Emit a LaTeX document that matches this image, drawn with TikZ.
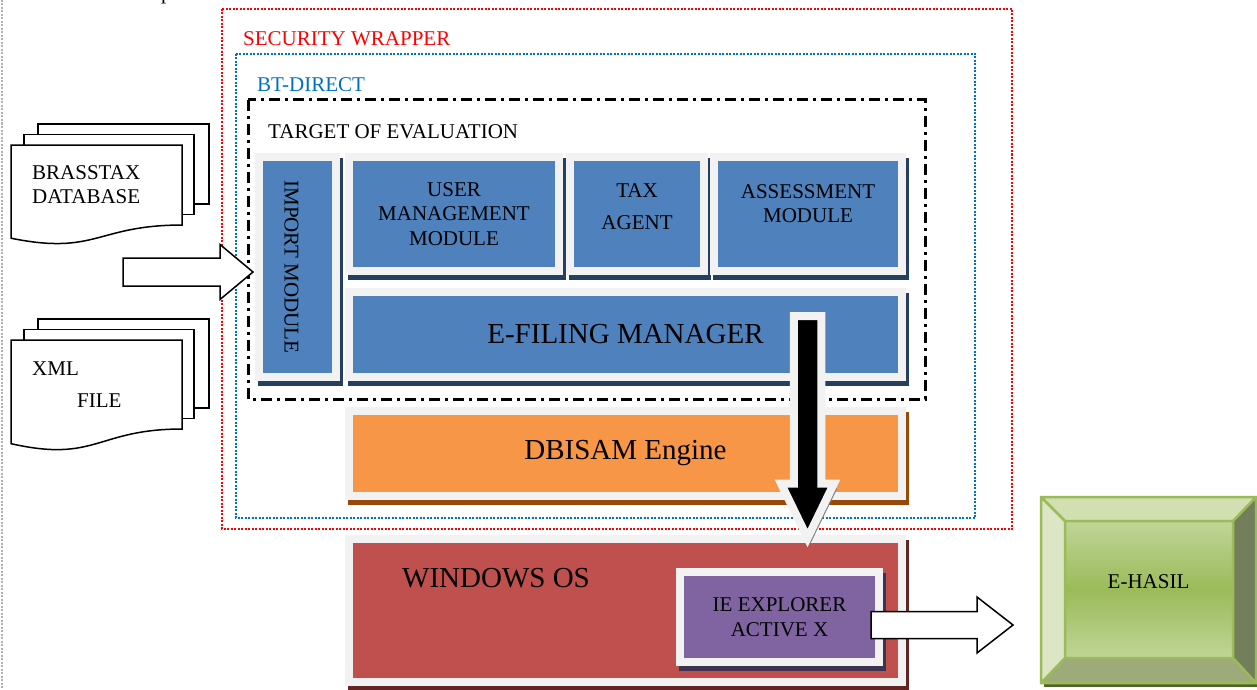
\documentclass[tikz,border=0pt]{standalone}
\usepackage{fontspec}
\setmainfont{Liberation Serif}
\usepackage{graphicx}
\usetikzlibrary{calc,shadows}

\definecolor{framegrey}{HTML}{F2F2F2}
\definecolor{modblue}{HTML}{4F81BD}
\definecolor{modnavy}{HTML}{243F60}
\definecolor{dbiorange}{HTML}{F79646}
\definecolor{dbibrown}{HTML}{984807}
\definecolor{winred}{HTML}{C0504D}
\definecolor{windark}{HTML}{632523}
\definecolor{iepurple}{HTML}{8064A2}
\definecolor{iedark}{HTML}{3F3151}
\definecolor{btblue}{HTML}{0070C0}
\definecolor{hasilgreen}{HTML}{9BBB59}
\definecolor{hasillight}{HTML}{C0D598}
\definecolor{hasiltop}{HTML}{D1DFB1}
\definecolor{hasilleft}{HTML}{DCE6C4}
\definecolor{hasilright}{HTML}{737F5A}
\definecolor{hasilbottom}{HTML}{9DAA7A}
\definecolor{hasilshadow}{HTML}{4F6228}

\newcommand\smallfont{\fontsize{21}{24.5}\selectfont}
\newcommand\bigfont{\fontsize{29}{34}\selectfont}

% stack of three sheets: #1 top of the front sheet, #2 its height
\newcommand\docstack[2]{%
  \filldraw[docsheet] (38,{#1-21}) rectangle (209,{#1-21+0.802*#2});
  \filldraw[docsheet] (24,{#1-10.5}) rectangle (194,{#1-10.5+0.802*#2});
  \filldraw[docsheet] (11,#1) -- (182,#1) -- (182,{#1+0.802*#2})
    .. controls (96.5,{#1+0.802*#2}) and (96.5,{#1+1.108*#2}) .. (11,{#1+0.934*#2}) -- cycle;
}
% wide white arrow: tail, tip, shaft half width, head half width, head length
\newcommand\blockarrow[5]{%
  \filldraw[blockline] ($(#1)+(0,-#3)$) -- ($(#2)+(-#5,-#3)$) -- ($(#2)+(-#5,-#4)$) -- (#2)
    -- ($(#2)+(-#5,#4)$) -- ($(#2)+(-#5,#3)$) -- ($(#1)+(0,#3)$) -- cycle;
}

\begin{document}
\begin{tikzpicture}[x=1pt,y=-1pt,
    module/.style 2 args={draw=framegrey, fill=#1, line width=8, inner sep=0,
      align=center, font=\smallfont,
      drop shadow={shadow xshift=3pt, shadow yshift=-5pt, opacity=1, fill=#2, draw=#2}},
    lbl/.style={inner sep=0, anchor=base west, font=\smallfont},
    wrapline/.style={line width=2, dash pattern=on 2pt off 1.5pt},
    toeline/.style={line width=3, dash pattern=on 11pt off 5pt on 3pt off 5pt},
    docsheet/.style={draw=black, fill=white, line width=1.5},
    blockline/.style={draw=black, fill=white, line width=1.5, line join=miter}]
  \useasboundingbox (0,0) rectangle (1257,690);

  \draw[gray!60, wrapline] (2,0) -- (2,690);
  \node[lbl] (pfrag) at (161,0) {p};

  % wrappers
  \draw[red, wrapline] (222,9) rectangle (1012,529);
  \draw[btblue, wrapline] (236,54) rectangle (975,518);
  \draw[toeline] (248,100) rectangle (925,399);
  \node[lbl, text=red] (secwrap) at (243,46) {SECURITY WRAPPER};
  \node[lbl, text=btblue] (btdirect) at (257,92) {BT-DIRECT};
  \node[lbl] (toe) at (268,139) {TARGET OF EVALUATION};

  % input files
  \docstack{145}{99.8}
  \docstack{340}{111}
  \node[lbl] (brassA) at (32,179) {BRASSTAX};
  \node[lbl] (brassB) at (32,203) {DATABASE};
  \node[lbl] (xmlA) at (32,375) {XML};
  \node[lbl] (xmlB) at (77,407) {FILE};

  % modules
  \node[module={modblue}{modnavy}, minimum width=77, minimum height=220] (imp) at (297.5,267) {};
  \node[font=\smallfont, rotate=-90] (implbl) at (291.5,267) {IMPORT MODULE};
  \node[module={modblue}{modnavy}, minimum width=210, minimum height=114] (usr) at (454,214)
    {USER\\MANAGEMENT\\MODULE};
  \node[module={modblue}{modnavy}, minimum width=134, minimum height=114, text depth=14] (tax) at (637,214)
    {TAX\\[7.5pt]AGENT};
  \node[module={modblue}{modnavy}, minimum width=188, minimum height=114, text depth=21] (asm) at (808,214)
    {ASSESSMENT\\MODULE};
  \node[module={modblue}{modnavy}, minimum width=553, minimum height=85, font=\bigfont] (efm) at (625.5,334.5)
    {E-FILING MANAGER};
  \node[module={dbiorange}{dbibrown}, minimum width=553, minimum height=85, font=\bigfont] (dbi) at (625.5,453.5)
    {DBISAM Engine};
  \node[module={winred}{windark}, minimum width=553, minimum height=143] (win) at (625.5,610.5) {};
  \node[lbl, font=\bigfont] (winlbl) at (402,587) {WINDOWS OS};
  \node[module={iepurple}{iedark}, minimum width=199, minimum height=90] (ie) at (779.5,617)
    {IE EXPLORER\\ACTIVE X};

  % E-HASIL button
  \fill[hasilshadow] (1044,501) rectangle (1259,687);
  \fill[hasiltop] (1041,497) -- (1256,497) -- (1233,521) -- (1065,521) -- cycle;
  \fill[hasilleft] (1041,497) -- (1065,521) -- (1065,658) -- (1041,683) -- cycle;
  \fill[hasilright] (1256,497) -- (1256,683) -- (1233,658) -- (1233,521) -- cycle;
  \fill[hasilbottom] (1041,683) -- (1256,683) -- (1233,658) -- (1065,658) -- cycle;
  \shade[top color=hasillight, bottom color=hasillight, middle color=hasilgreen] (1065,521) rectangle (1233,658);
  \draw[hasilgreen, line width=2.5] (1041,497) rectangle (1256,683) (1065,521) rectangle (1233,658)
    (1041,497) -- (1065,521) (1256,497) -- (1233,521) (1041,683) -- (1065,658) (1256,683) -- (1233,658);
  \node[minimum width=215, minimum height=186, inner sep=0, outer sep=0, font=\smallfont, text depth=16]
    (hasil) at (1148.5,590) {E-HASIL};

  % arrows
  \coordinate (intail) at (123,272);
  \coordinate (intip) at ($(imp.west)+(-2,5)$);
  \blockarrow{intail}{intip}{14}{27.5}{33}
  \coordinate (outtail) at ($(ie.east)+(-12,8)$);
  \coordinate (outtip) at ($(hasil.west)+(-28,35)$);
  \blockarrow{outtail}{outtip}{13.5}{28}{36}
  \coordinate (downtail) at ($(efm.north)+(182,28)$);
  \coordinate (downtip) at ($(win.north)+(182,3)$);
  \filldraw[fill=black, draw=framegrey, line width=8, line join=miter,
      drop shadow={shadow xshift=3pt, shadow yshift=-5pt, opacity=1, fill=gray, draw=gray}]
    ($(downtail)+(-13.75,0)$) -- ($(downtail)+(13.75,0)$) -- ($(downtip)+(13.75,-54.5)$)
    -- ($(downtip)+(26.5,-54.5)$) -- (downtip) -- ($(downtip)+(-26.5,-54.5)$)
    -- ($(downtip)+(-13.75,-54.5)$) -- cycle;
\end{tikzpicture}
\end{document}
